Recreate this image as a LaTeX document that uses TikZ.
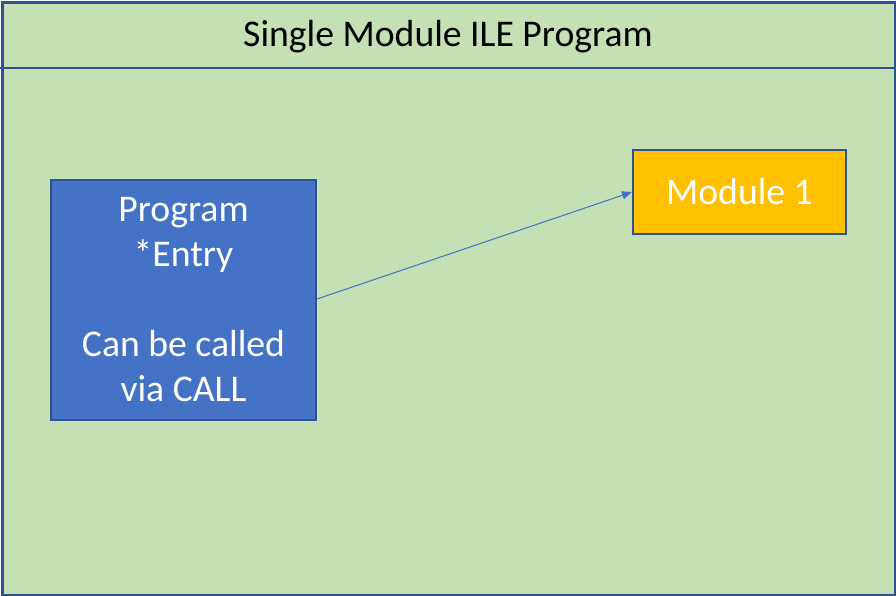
\documentclass[tikz,border=0pt]{standalone}
\usepackage{fontspec}
\setmainfont{Carlito}
\usetikzlibrary{arrows.meta}
\definecolor{bgreen}{HTML}{C5E0B4}
\definecolor{bblue}{HTML}{4472C4}
\definecolor{bdark}{HTML}{2F528F}
\definecolor{borange}{HTML}{FFC000}
\tikzset{
  boxstyle/.style={draw=bdark, line width=2pt, inner sep=0pt, text=white, align=center},
}
\begin{document}
\begin{tikzpicture}[x=1pt,y=-1pt]
\useasboundingbox (0,0) rectangle (896,596);
\node[draw=bdark, fill=bgreen, line width=2.5pt, minimum width=893pt, minimum height=593pt, anchor=north west, inner sep=0pt] (frame) at (1.25,1.25) {};
\coordinate (hl) at (0,68);
\coordinate (hr) at (896,68);
\draw[bdark, line width=2pt] (hl) -- (hr);
\node[font=\fontsize{37.7}{44}\selectfont, text=black] (title) at (448,37) {Single Module ILE Program};
\node[boxstyle, fill=bblue, minimum width=265pt, minimum height=240pt, font=\fontsize{37.7}{45}\selectfont] (prog) at (183.5,300) {Program\\*Entry\\[45pt]Can be called\\via CALL};
\node[boxstyle, fill=borange, minimum width=213pt, minimum height=84pt, font=\fontsize{37.7}{44}\selectfont] (mod) at (739.5,192) {Module 1};
\draw[-{Triangle[length=10pt,width=8pt]}, bblue, line width=1pt] (prog.east |- 0,299) -- (mod.west);
\end{tikzpicture}
\end{document}
